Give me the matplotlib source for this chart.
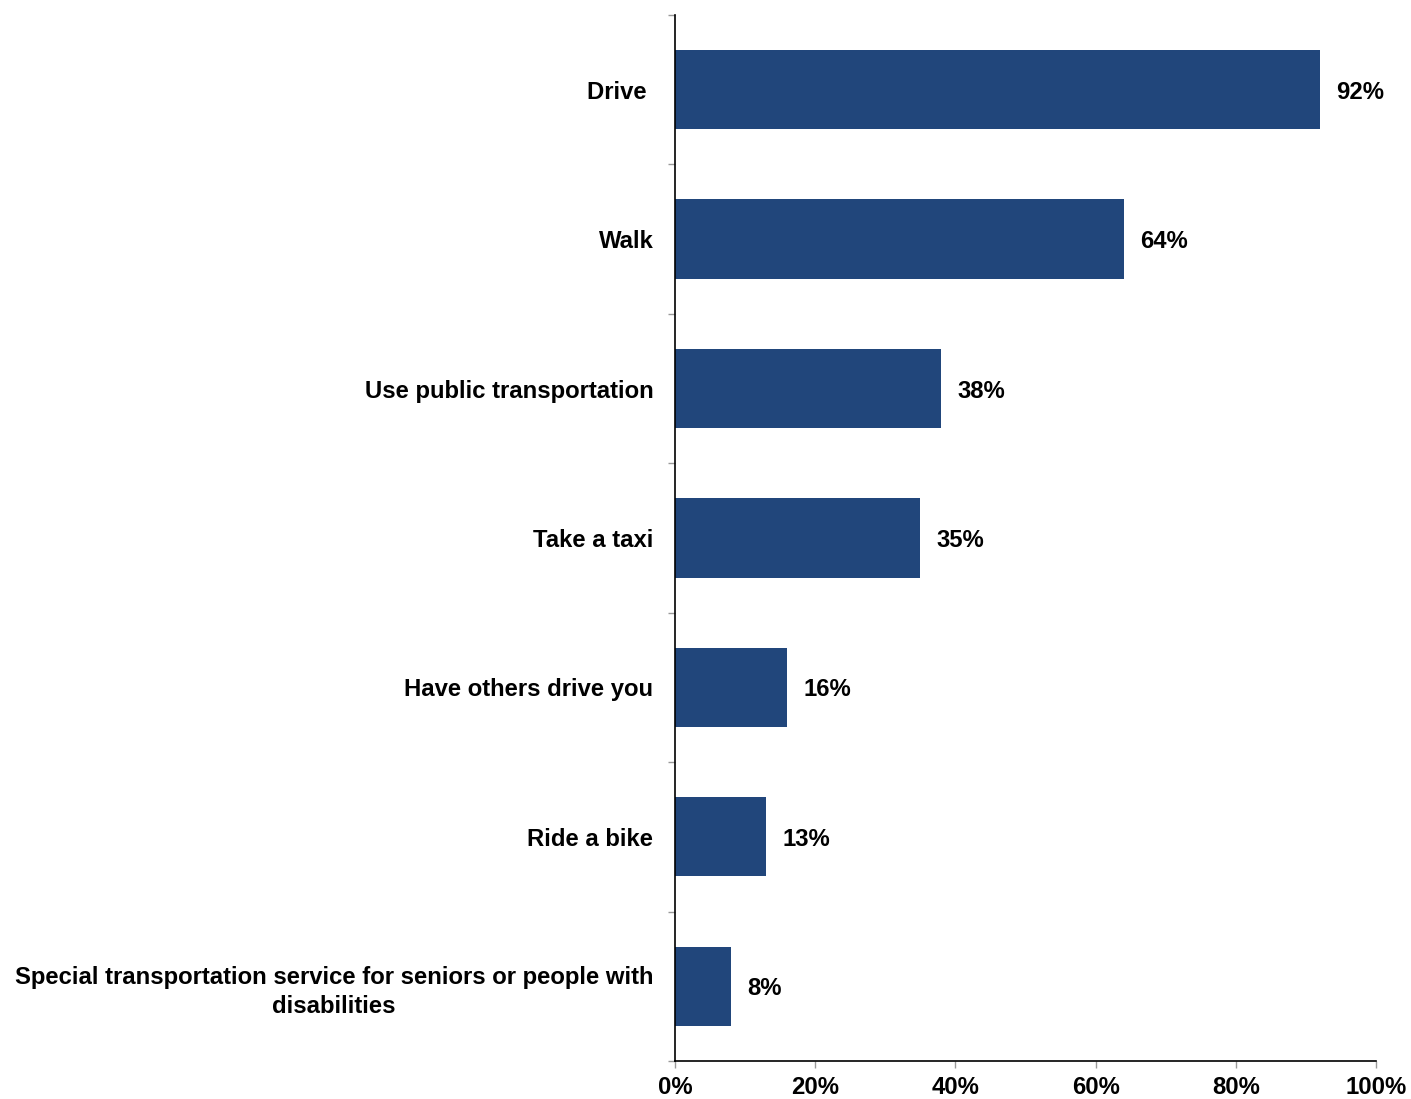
import matplotlib.pyplot as plt
import numpy as np

plt.rcParams['font.family'] = ['Liberation Sans', 'DejaVu Sans']
plt.rcParams['font.weight'] = 'bold'

# Share of respondents by mode of getting around
categories = ['Drive ', 'Walk', 'Use public transportation', 'Take a taxi',
              'Have others drive you', 'Ride a bike',
              'Special transportation service for seniors or people with\ndisabilities']
values = [92, 64, 38, 35, 16, 13, 8]
x_ticks = [0, 20, 40, 60, 80, 100]

bar_color = '#21467b'
fsize = 17.2

fig = plt.figure(figsize=(14.11, 10.99), dpi=100)
ax = fig.add_axes([0.4784, 0.0346, 0.4968, 0.9518])

pos = np.arange(len(categories))
ax.barh(pos, values, height=0.53, color=bar_color)

# Value labels just past the end of each bar
for p, v in zip(pos, values):
    ax.text(v + 2.3, p, f'{v}%', va='center_baseline', ha='left',
            fontsize=fsize, fontweight='bold')

ax.set_xlim(0, 100)
ax.set_ylim(len(categories) - 0.5, -0.5)
ax.set_xticks(x_ticks)
ax.set_xticklabels([f'{t}%' for t in x_ticks], fontsize=fsize, fontweight='bold')

ax.set_yticks(pos)
ax.set_yticklabels(categories, fontsize=fsize, fontweight='bold',
                   multialignment='center', linespacing=1.35)
ax.tick_params(axis='y', length=0, pad=15.5)
# Gray separator ticks between categories
ax.set_yticks(np.arange(-0.5, len(categories), 1), minor=True)
ax.tick_params(axis='y', which='minor', length=5, color='#999999', width=1)
ax.tick_params(axis='x', length=5, color='#999999', width=1, pad=6)

for side in ['top', 'right']:
    ax.spines[side].set_visible(False)
for side in ['left', 'bottom']:
    ax.spines[side].set_color('black')
    ax.spines[side].set_linewidth(1.2)

plt.savefig('out.png', dpi=100)
